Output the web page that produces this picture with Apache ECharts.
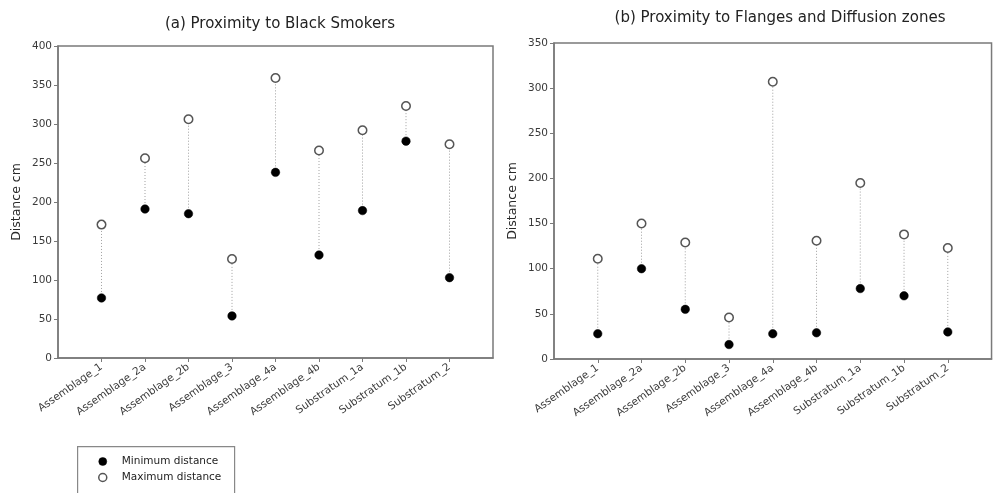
<!DOCTYPE html>
<html>
<head>
<meta charset="utf-8">
<script src="https://cdn.jsdelivr.net/npm/echarts@6/dist/echarts.min.js"></script>
<style>html,body{margin:0;padding:0;background:#fff}#c{width:994px;height:493px}</style>
</head>
<body>
<div id="c"></div>
<script>
const categories = ['Assemblage_1','Assemblage_2a','Assemblage_2b','Assemblage_3','Assemblage_4a','Assemblage_4b','Substratum_1a','Substratum_1b','Substratum_2'];
const smokersMin = [77, 191, 185, 54, 238, 132, 189, 278, 103];
const smokersMax = [171, 256, 306, 127, 359, 266, 292, 323, 274];
const flangesMin = [28, 100, 55, 16, 28, 29, 78, 70, 30];
const flangesMax = [111, 150, 129, 46, 307, 131, 195, 138, 123];
const titleA = '(a) Proximity to Black Smokers';
const titleB = '(b) Proximity to Flanges and Diffusion zones';
const yNameText = 'Distance cm';
const legendMin = 'Minimum distance';
const legendMax = 'Maximum distance';

const FONT = 'DejaVu Sans';
const axisCats = [''].concat(categories, ['']);

function xAxisCfg(gridIndex) {
  return {
    type: 'category', gridIndex, data: axisCats, boundaryGap: false,
    axisLine: { lineStyle: { color: '#7a7a7a', width: 1.5 } },
    axisTick: { show: true, length: 4, inside: false, interval: (i) => i > 0 && i < axisCats.length - 1, lineStyle: { color: '#7a7a7a' } },
    axisLabel: { interval: 0, rotate: 35, fontFamily: FONT, fontSize: 10.5, color: '#3a3a3a', margin: 8 },
    splitLine: { show: false }
  };
}
function yAxisCfg(gridIndex, max) {
  return {
    type: 'value', gridIndex, min: 0, max, interval: 50,
    name: yNameText, nameLocation: 'middle', nameRotate: 90, nameGap: 35,
    nameTextStyle: { fontFamily: FONT, fontSize: 12.5, color: '#2a2a2a' },
    axisLine: { show: true, lineStyle: { color: '#7a7a7a', width: 1.5 } },
    axisTick: { show: true, length: 4, lineStyle: { color: '#7a7a7a' } },
    axisLabel: { fontFamily: FONT, fontSize: 10.5, color: '#3a3a3a', margin: 6 },
    splitLine: { show: false }
  };
}
function rangeSeries(idx, mins, maxs) {
  return {
    type: 'custom', xAxisIndex: idx, yAxisIndex: idx, silent: true, z: 1,
    data: categories.map((c, i) => [c, mins[i], maxs[i]]),
    encode: { x: 0, y: [1, 2] },
    renderItem: function (params, api) {
      const x = api.value(0);
      const p1 = api.coord([x, api.value(1)]);
      const p2 = api.coord([x, api.value(2)]);
      return { type: 'line', shape: { x1: p1[0], y1: p1[1], x2: p2[0], y2: p2[1] },
        style: { stroke: '#a0a0a0', lineWidth: 1, lineDash: [1, 2] } };
    }
  };
}
const minStyle = { color: '#000', borderColor: '#000', borderWidth: 0.5, opacity: 1 };
const maxStyle = { color: '#fff', borderColor: '#555', borderWidth: 1.5, opacity: 1 };
function pointSeries(idx, name, vals, style) {
  return {
    type: 'scatter', name, xAxisIndex: idx, yAxisIndex: idx, z: 3,
    symbol: 'circle', symbolSize: 8.5,
    data: categories.map((c, i) => [c, vals[i]]),
    itemStyle: style, emphasis: { disabled: true }
  };
}

const chart = echarts.init(document.getElementById('c'), null, { renderer: 'canvas' });
chart.setOption({
  animation: false,
  backgroundColor: '#fff',
  title: [
    { text: titleA, left: 275, top: 12, textAlign: 'center', textStyle: { fontFamily: FONT, fontSize: 15, fontWeight: 'normal', color: '#222' } },
    { text: titleB, left: 775, top: 6, textAlign: 'center', textStyle: { fontFamily: FONT, fontSize: 15, fontWeight: 'normal', color: '#222' } }
  ],
  grid: [
    { left: 58, right: 501, top: 46, bottom: 135, show: true, borderColor: '#7a7a7a', borderWidth: 1.5, backgroundColor: 'transparent' },
    { left: 554, right: 1, top: 43, bottom: 134, show: true, borderColor: '#7a7a7a', borderWidth: 1.5, backgroundColor: 'transparent' }
  ],
  graphic: [
    { type: 'rect', left: 77, top: 446, shape: { width: 157, height: 70 }, style: { fill: '#fff', stroke: '#888', lineWidth: 1.2 }, z: 0 }
  ],
  xAxis: [xAxisCfg(0), xAxisCfg(1)],
  yAxis: [yAxisCfg(0, 400), yAxisCfg(1, 350)],
  legend: {
    orient: 'vertical', left: 98, top: 456,
    padding: 0, itemGap: 5, itemWidth: 8, itemHeight: 8, z: 5,
    textStyle: { fontFamily: FONT, fontSize: 10.5, color: '#222', padding: [0, 0, 0, 10] },
    data: [
      { name: legendMin, icon: 'circle', itemStyle: minStyle },
      { name: legendMax, icon: 'circle', itemStyle: maxStyle }
    ],
    selectedMode: false
  },
  series: [
    rangeSeries(0, smokersMin, smokersMax),
    pointSeries(0, legendMin, smokersMin, minStyle),
    pointSeries(0, legendMax, smokersMax, maxStyle),
    rangeSeries(1, flangesMin, flangesMax),
    pointSeries(1, legendMin, flangesMin, minStyle),
    pointSeries(1, legendMax, flangesMax, maxStyle)
  ]
});
</script>
</body>
</html>
